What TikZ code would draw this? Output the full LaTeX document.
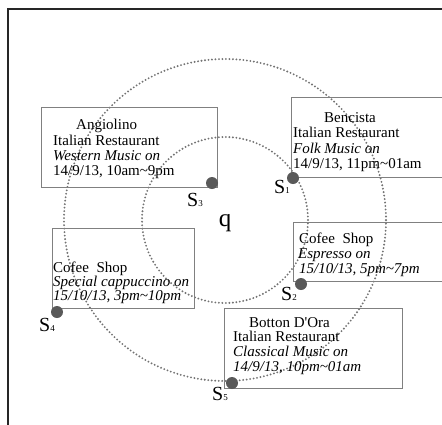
\documentclass[tikz,border=0pt]{standalone}
\usepackage{fontspec}
\setmainfont{Liberation Serif}
\begin{document}
\begin{tikzpicture}[x=1pt,y=-1pt,
  ring/.style={draw=black!55,line width=2.1pt,dash pattern=on 0pt off 3.5pt,line cap=round},
  infobox/.style={draw=black!50,line width=0.9pt,inner sep=0pt,anchor=north west},
  infoline/.style={anchor=base west,inner sep=0pt,font=\fontsize{15}{15}\selectfont},
  site/.style={circle,fill=black!65,inner sep=0pt,minimum size=12pt},
  sitelabel/.style={anchor=base west,inner sep=0pt,font=\fontsize{20}{20}\selectfont}]
\useasboundingbox (0,0) rectangle (442,424);
\clip (0,0) rectangle (442,424);
% frame
\coordinate (fbl) at (8,430);
\coordinate (ftl) at (8,9);
\coordinate (ftr) at (450,9);
\draw[black!85,line width=1.3pt] (fbl) -- (ftl) -- (ftr);
% query point and ranges
\coordinate (qc) at (225,220);
\node[inner sep=0pt,font=\fontsize{25}{25}\selectfont] (q) at (225,223) {q};
\draw[ring] (qc) circle (83pt);
\draw[ring] (qc) circle (161pt);
% boxes
\node[infobox,minimum width=176pt,minimum height=80pt] (angbox) at (41,107) {};
\node[infobox,minimum width=170pt,minimum height=80pt] (benbox) at (291,97) {};
\node[infobox,minimum width=170pt,minimum height=59pt] (espbox) at (293,222) {};
\node[infobox,minimum width=142pt,minimum height=80pt] (spcbox) at (52,228) {};
\node[infobox,minimum width=178pt,minimum height=80pt] (botbox) at (224,308) {};
% Angiolino
\node[infoline] (ang1) at (76,129) {Angiolino};
\node[infoline] (ang2) at (53,145) {Italian Restaurant};
\node[infoline] (ang3) at (53,160) {\itshape Western Music on};
\node[infoline] (ang4) at (53,175) {14/9/13, 10am\textasciitilde 9pm};
% Bencista
\node[infoline] (ben1) at (324,122) {Bencista};
\node[infoline] (ben2) at (293,137) {Italian Restaurant};
\node[infoline] (ben3) at (293,153) {\itshape Folk Music on};
\node[infoline] (ben4) at (293,168) {14/9/13, 11pm\textasciitilde 01am};
% Cofee Shop, Espresso
\node[infoline] (esp1) at (299,243) {Cofee\ \ Shop};
\node[infoline] (esp2) at (298,258) {\itshape Espresso on};
\node[infoline] (esp3) at (299,273) {\itshape 15/10/13, 5pm\textasciitilde 7pm};
% Cofee Shop, cappuccino
\node[infoline] (spc1) at (53,272) {Cofee\ \ Shop};
\node[infoline] (spc2) at (53,286) {\itshape Special cappuccino on};
\node[infoline] (spc3) at (53,300) {\itshape 15/10/13, 3pm\textasciitilde 10pm};
% Botton D'Ora
\node[infoline] (bot1) at (249,327) {Botton D\textquotesingle Ora};
\node[infoline] (bot2) at (233,341) {Italian Restaurant};
\node[infoline] (bot3) at (233,356) {\itshape Classical Music on};
\node[infoline] (bot4) at (233,371) {\itshape 14/9/13, 10pm\textasciitilde 01am};
% sites
\node[site] (s1) at (293,178) {};
\node[site] (s2) at (301,284) {};
\node[site] (s3) at (212,183) {};
\node[site] (s4) at (57,312) {};
\node[site] (s5) at (232,383) {};
\node[sitelabel] (l1) at (274,193) {S{\fontsize{9}{9}\selectfont 1}};
\node[sitelabel] (l2) at (281,300) {S{\fontsize{9}{9}\selectfont 2}};
\node[sitelabel] (l3) at (187,206) {S{\fontsize{9}{9}\selectfont 3}};
\node[sitelabel] (l4) at (39,331) {S{\fontsize{9}{9}\selectfont 4}};
\node[sitelabel] (l5) at (212,400) {S{\fontsize{9}{9}\selectfont 5}};
\end{tikzpicture}
\end{document}
